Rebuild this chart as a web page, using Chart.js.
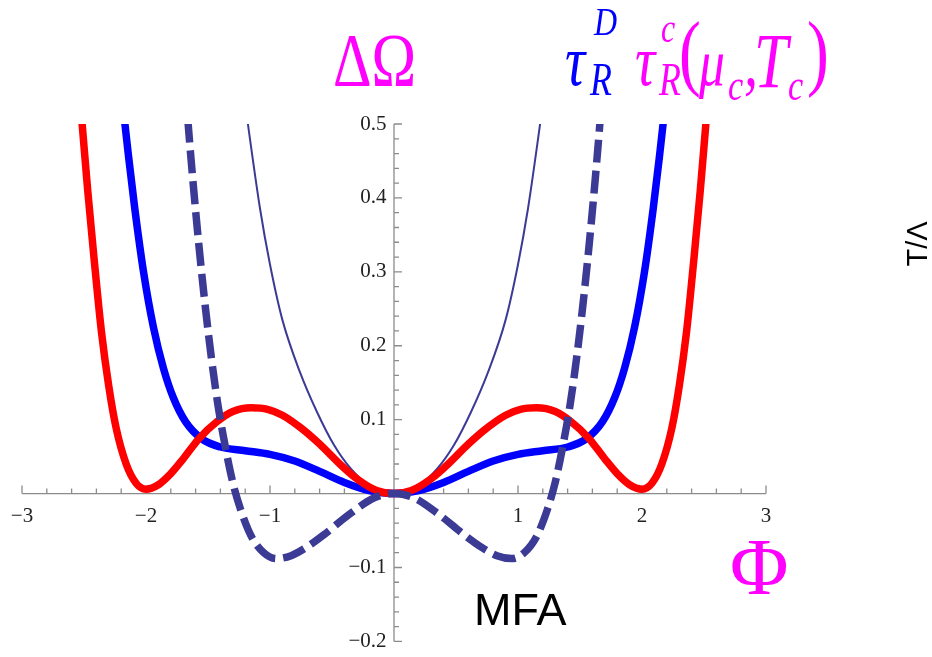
<!DOCTYPE html>
<html>
<head>
<meta charset="utf-8">
<script src="https://cdn.jsdelivr.net/npm/chart.js@4.4.0/dist/chart.umd.min.js"></script>
<style>
html, body { margin: 0; padding: 0; background: #fff; }
#wrap { position: relative; width: 932px; height: 657px; overflow: hidden; }
#wrap canvas, #wrap svg { position: absolute; left: 0; top: 0; }
</style>
</head>
<body>
<div id="wrap">
<canvas id="graphique" width="932" height="657"></canvas>
<svg width="932" height="657" font-family="Liberation Serif, DejaVu Serif, serif">
	<g transform="translate(333,86) scale(0.78,1)"><text font-size="77" fill="#ff00ff">ΔΩ</text></g>
	<g fill="#0000ff" font-style="italic">
		<g transform="translate(565,85) scale(0.78,1)"><text font-size="72">τ</text></g>
		<g transform="translate(594,35) scale(0.78,1)"><text font-size="41">D</text></g>
		<g transform="translate(590,95) scale(0.78,1)"><text font-size="46">R</text></g>
	</g>
	<g fill="#ff00ff" font-style="italic">
		<g transform="translate(635,85) scale(0.78,1)"><text font-size="72">τ</text></g>
		<g transform="translate(661,42) scale(0.78,1)"><text font-size="41">c</text></g>
		<g transform="translate(659,95) scale(0.78,1)"><text font-size="46">R</text></g>
		<g transform="translate(679,80) scale(0.78,1)"><text font-size="84" font-style="normal">(</text></g>
		<g transform="translate(699,85) scale(0.78,1)"><text font-size="66">μ</text></g>
		<g transform="translate(728,100) scale(0.78,1)"><text font-size="44">c</text></g>
		<g transform="translate(744,85) scale(0.78,1)"><text font-size="72">,</text></g>
		<g transform="translate(754,87) scale(0.78,1)"><text font-size="78">T</text></g>
		<g transform="translate(788,100) scale(0.78,1)"><text font-size="44">c</text></g>
		<g transform="translate(807,80) scale(0.78,1)"><text font-size="84" font-style="normal">)</text></g>
	</g>
	<text x="730" y="594" font-size="80" fill="#ff00ff">Φ</text>
	<text x="474" y="625" font-size="45" font-family="Liberation Sans, Arial, sans-serif" fill="#000">MFA</text>
	<text transform="translate(927,244) rotate(-90)" text-anchor="middle" font-size="29" font-family="Liberation Sans, Arial, sans-serif" fill="#000">T/Λ</text>
</svg>
</div>
<script>
// valeurs (Φ, ΔΩ)
const redPhi = [-2.56, -2.51, -2.47, -2.42, -2.36, -2.30, -2.24, -2.16, -2.08, -2.0, -1.90, -1.80, -1.70, -1.57, -1.43, -1.30, -1.15, -1.02, -0.90, -0.76, -0.60, -0.45, -0.30, -0.14, 0,
	0.14, 0.30, 0.45, 0.60, 0.76, 0.90, 1.02, 1.15, 1.30, 1.43, 1.57, 1.70, 1.80, 1.90, 2.0, 2.08, 2.16, 2.24, 2.30, 2.36, 2.42, 2.47, 2.51, 2.56];
const redOmega = [0.59, 0.49, 0.41, 0.32, 0.22, 0.145, 0.088, 0.04, 0.014, 0.006, 0.012, 0.027, 0.047, 0.075, 0.097, 0.111, 0.116, 0.114, 0.106, 0.090, 0.067, 0.042, 0.020, 0.004, 0,
	0.004, 0.020, 0.042, 0.067, 0.090, 0.106, 0.114, 0.116, 0.111, 0.097, 0.075, 0.047, 0.027, 0.012, 0.006, 0.014, 0.04, 0.088, 0.145, 0.22, 0.32, 0.41, 0.49, 0.59];

const bluePhi = [-2.21, -2.17, -2.14, -2.09, -2.02, -1.94, -1.86, -1.78, -1.68, -1.55, -1.40, -1.20, -1.0, -0.80, -0.60, -0.40, -0.20, 0,
	0.20, 0.40, 0.60, 0.80, 1.0, 1.20, 1.40, 1.55, 1.68, 1.78, 1.86, 1.94, 2.02, 2.09, 2.14, 2.17, 2.21];
const blueOmega = [0.57, 0.50, 0.455, 0.385, 0.30, 0.225, 0.17, 0.13, 0.097, 0.074, 0.063, 0.058, 0.053, 0.044, 0.030, 0.015, 0.004, 0,
	0.004, 0.015, 0.030, 0.044, 0.053, 0.058, 0.063, 0.074, 0.097, 0.13, 0.17, 0.225, 0.30, 0.385, 0.455, 0.50, 0.57];

const dashPhi = [-1.70, -1.66, -1.62, -1.57, -1.52, -1.47, -1.42, -1.36, -1.30, -1.24, -1.15, -1.05, -0.95, -0.83, -0.70, -0.56, -0.36, -0.15, 0,
	0.15, 0.36, 0.56, 0.70, 0.83, 0.95, 1.05, 1.15, 1.24, 1.30, 1.36, 1.42, 1.47, 1.52, 1.57, 1.62, 1.66, 1.70];
const dashOmega = [0.59, 0.50, 0.42, 0.33, 0.25, 0.18, 0.12, 0.063, 0.015, -0.02, -0.058, -0.080, -0.088, -0.084, -0.072, -0.055, -0.028, -0.005, 0,
	-0.005, -0.028, -0.055, -0.072, -0.084, -0.088, -0.080, -0.058, -0.02, 0.015, 0.063, 0.12, 0.18, 0.25, 0.33, 0.42, 0.50, 0.59];

const thinPhi = [-1.21, -1.17, -1.08, -1.0, -0.90, -0.76, -0.62, -0.485, -0.35, -0.20, 0,
	0.20, 0.35, 0.485, 0.62, 0.76, 0.90, 1.0, 1.08, 1.17, 1.21];
const thinOmega = [0.54, 0.49, 0.385, 0.31, 0.235, 0.165, 0.110, 0.066, 0.034, 0.011, 0,
	0.011, 0.034, 0.066, 0.110, 0.165, 0.235, 0.31, 0.385, 0.49, 0.54];

const xTicks = [-3, -2, -1, 1, 2, 3];
const yTicks = [-0.2, -0.1, 0.1, 0.2, 0.3, 0.4, 0.5];

const axisColor = "#8c8c8c";
const labelFont = {family: "Liberation Serif", size: 21};

function points(xs, ys) {
	return xs.map((x, i) => ({x: x, y: ys[i]}));
}

function formatTick(v, dec) {
	return v < 0 ? "\u2212" + Math.abs(v).toFixed(dec) : v.toFixed(dec);
}

// axes à la Mathematica : croisés à l'origine, graduations vers l'intérieur
const axesCroises = {
	id: "axesCroises",
	beforeDatasetsDraw(chart) {
		const ctx = chart.ctx;
		const area = chart.chartArea;
		const sx = chart.scales.x;
		const sy = chart.scales.y;
		const x0 = sx.getPixelForValue(0);
		const y0 = sy.getPixelForValue(0);
		ctx.save();
		ctx.strokeStyle = axisColor;
		ctx.lineWidth = 1.3;
		ctx.beginPath();
		ctx.moveTo(area.left, y0);
		ctx.lineTo(area.right, y0);
		ctx.moveTo(x0, area.top);
		ctx.lineTo(x0, area.bottom);
		for (let i = 0; i <= 30; i++) {
			const px = sx.getPixelForValue(-3 + i * 0.2);
			const len = i % 5 == 0 ? 8 : 5;
			ctx.moveTo(px, y0);
			ctx.lineTo(px, y0 - len);
		}
		for (let i = 0; i <= 35; i++) {
			const py = sy.getPixelForValue(-0.2 + i * 0.02);
			const len = i % 5 == 0 ? 8 : 5;
			ctx.moveTo(x0, py);
			ctx.lineTo(x0 + len, py);
		}
		ctx.stroke();
		ctx.restore();
	}
};

const data = {
	datasets: [
		{
			data: points(dashPhi, dashOmega),
			borderColor: "#3b3b96",
			borderWidth: 7.5,
			borderDash: [23, 8],
			order: 1,
		},
		{
			data: points(redPhi, redOmega),
			borderColor: "#ff0000",
			borderWidth: 7.5,
			order: 2,
		},
		{
			data: points(bluePhi, blueOmega),
			borderColor: "#0000ff",
			borderWidth: 7.5,
			order: 3,
		},
		{
			data: points(thinPhi, thinOmega),
			borderColor: "#3b3b96",
			borderWidth: 2,
			order: 4,
		},
	],
};
data.datasets.forEach(d => {
	d.pointRadius = 0;
	d.cubicInterpolationMode = "monotone";
	d.clip = 0;
	d.fill = false;
});

const config = {
	type: "line",
	data: data,
	plugins: [axesCroises],
	options: {
		responsive: false,
		animation: false,
		layout: {padding: {left: 22, right: 166, top: 124, bottom: 12}},
		plugins: {legend: {display: false}, tooltip: {enabled: false}},
		scales: {
			x: {
				type: "linear",
				min: -3,
				max: 3,
				position: {y: 0},
				afterBuildTicks: s => { s.ticks = xTicks.map(v => ({value: v})); },
				grid: {display: false, drawTicks: false},
				border: {display: false},
				ticks: {autoSkip: false, maxRotation: 0, padding: 10, color: "#222", font: labelFont,
					callback: v => formatTick(v, 0)},
			},
			y: {
				type: "linear",
				min: -0.2,
				max: 0.5,
				position: {x: -0.06},
				afterBuildTicks: s => { s.ticks = yTicks.map(v => ({value: v})); },
				grid: {display: false, drawTicks: false},
				border: {display: false},
				ticks: {autoSkip: false, color: "#222", font: labelFont,
					callback: v => formatTick(v, 1)},
			},
		},
	},
};
const graphique = new Chart(document.querySelector("#graphique"), config);
</script>
</body>
</html>
